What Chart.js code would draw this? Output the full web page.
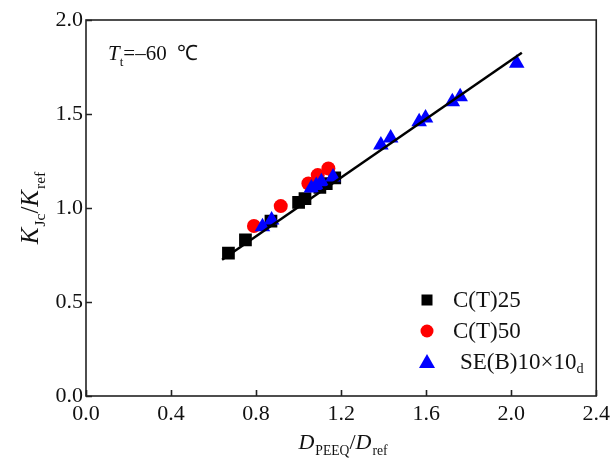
<!DOCTYPE html>
<html>
<head>
<meta charset="utf-8">
<script src="https://cdn.jsdelivr.net/npm/chart.js@4.4.0/dist/chart.umd.min.js"></script>
<style>
  html, body { margin: 0; padding: 0; background: #fff; }
  #wrap { width: 615px; height: 464px; }
</style>
</head>
<body>
<div id="wrap"><canvas id="c" width="615" height="464"></canvas></div>
<script>
// Normalised fracture toughness vs normalised PEEQ distance, Tt = -60 °C
const ct25X = [0.67, 0.75, 0.87, 1.00, 1.03, 1.10, 1.13, 1.17];
const ct25Y = [0.76, 0.83, 0.93, 1.03, 1.05, 1.11, 1.13, 1.16];

const ct50X = [0.79, 0.916, 1.046, 1.09, 1.14];
const ct50Y = [0.904, 1.01, 1.13, 1.175, 1.21];

const seX = [0.83, 0.873, 1.06, 1.083, 1.107, 1.162, 1.387, 1.433, 1.567, 1.597, 1.723, 1.76, 2.026];
const seY = [0.90, 0.936, 1.106, 1.12, 1.14, 1.165, 1.335, 1.372, 1.459, 1.479, 1.565, 1.592, 1.77];

const fitX = [0.64, 2.05];
const fitY = [0.725, 1.826];

const xTicks = [0.0, 0.4, 0.8, 1.2, 1.6, 2.0, 2.4];
const yTicks = [0.0, 0.5, 1.0, 1.5, 2.0];

const legendLabels = ['C(T)25', 'C(T)50', 'SE(B)10\u00d710'];

const pts = (xs, ys) => xs.map((x, i) => ({ x: x, y: ys[i] }));

const SERIF = '"Liberation Serif", "Times New Roman", serif';
const INK = '#111';

// draw a run of text pieces, some italic, some lowered as subscripts
function richWidth(ctx, parts, size) {
  let w = 0;
  for (const p of parts) {
    const s = p.sub ? size * 0.62 : size;
    ctx.font = (p.italic ? 'italic ' : '') + s + 'px ' + SERIF;
    w += ctx.measureText(p.t).width + (p.gap || 0);
  }
  return w;
}
function drawRich(ctx, parts, x, y, size) {
  let cx = x;
  for (const p of parts) {
    const s = p.sub ? size * 0.62 : size;
    ctx.font = (p.italic ? 'italic ' : '') + s + 'px ' + SERIF;
    ctx.fillText(p.t, cx, p.sub ? y + size * 0.28 : y);
    cx += ctx.measureText(p.t).width + (p.gap || 0);
  }
}

const decor = {
  id: 'decor',
  afterDatasetsDraw(chart) {
    const ctx = chart.ctx;
    const a = chart.chartArea;
    const xs = chart.scales.x, ys = chart.scales.y;
    ctx.save();
    // frame
    ctx.strokeStyle = '#222';
    ctx.lineWidth = 1.6;
    ctx.strokeRect(a.left, a.top, a.right - a.left, a.bottom - a.top);
    // inward ticks
    ctx.beginPath();
    for (const v of xTicks) {
      const px = Math.round(xs.getPixelForValue(v)) + 0.5;
      ctx.moveTo(px, a.bottom);
      ctx.lineTo(px, a.bottom - 6);
    }
    for (const v of yTicks) {
      const py = Math.round(ys.getPixelForValue(v)) + 0.5;
      ctx.moveTo(a.left, py);
      ctx.lineTo(a.left + 6, py);
    }
    ctx.stroke();

    ctx.fillStyle = INK;
    ctx.textBaseline = 'alphabetic';
    ctx.textAlign = 'left';

    // temperature note
    drawRich(ctx, [
      { t: 'T', italic: true },
      { t: 't', sub: true },
      { t: '=\u201360  \u2103' }
    ], 108, 60, 21);

    // x title
    const xParts = [
      { t: 'D', italic: true, gap: 1 },
      { t: 'PEEQ', sub: true },
      { t: '/' },
      { t: 'D', italic: true, gap: 1 },
      { t: 'ref', sub: true }
    ];
    const xw = richWidth(ctx, xParts, 22);
    drawRich(ctx, xParts, 343 - xw / 2, 449, 22);

    // y title (rotated)
    const yParts = [
      { t: 'K', italic: true, gap: 1 },
      { t: 'Jc', sub: true },
      { t: '/' },
      { t: 'K', italic: true, gap: 1 },
      { t: 'ref', sub: true }
    ];
    const yw = richWidth(ctx, yParts, 25);
    ctx.save();
    ctx.translate(38, 208);
    ctx.rotate(-Math.PI / 2);
    drawRich(ctx, yParts, -yw / 2, 0, 25);
    ctx.restore();

    // legend
    const lx = 427, rows = [300, 331, 362];
    ctx.fillStyle = '#000';
    ctx.fillRect(lx - 5.5, rows[0] - 5.5, 11, 11);
    ctx.fillStyle = '#ff0000';
    ctx.beginPath(); ctx.arc(lx, rows[1], 6.5, 0, Math.PI * 2); ctx.fill();
    ctx.fillStyle = '#0000ff';
    ctx.beginPath();
    ctx.moveTo(lx, rows[2] - 8);
    ctx.lineTo(lx + 8, rows[2] + 6);
    ctx.lineTo(lx - 8, rows[2] + 6);
    ctx.closePath(); ctx.fill();

    ctx.fillStyle = INK;
    ctx.textBaseline = 'middle';
    ctx.font = '23px ' + SERIF;
    ctx.fillText(legendLabels[0], 453, rows[0] + 1);
    ctx.fillText(legendLabels[1], 453, rows[1] + 1);
    drawRich(ctx, [{ t: legendLabels[2] }, { t: 'd', sub: true }], 460, rows[2] + 1, 23);
    ctx.restore();
  }
};

new Chart(document.getElementById('c'), {
  type: 'scatter',
  data: {
    datasets: [
      {
        label: 'fit',
        type: 'line',
        data: pts(fitX, fitY),
        borderColor: '#000',
        borderWidth: 2.5,
        pointRadius: 0,
        fill: false,
        order: 0
      },
      {
        label: legendLabels[2],
        data: pts(seX, seY),
        pointStyle: 'triangle',
        pointRadius: 9,
        backgroundColor: '#0000ff',
        borderColor: '#0000ff',
        borderWidth: 0,
        order: 1
      },
      {
        label: legendLabels[1],
        data: pts(ct50X, ct50Y),
        pointStyle: 'circle',
        pointRadius: 7,
        backgroundColor: '#ff0000',
        borderColor: '#ff0000',
        borderWidth: 0,
        order: 2
      },
      {
        label: legendLabels[0],
        data: pts(ct25X, ct25Y),
        pointStyle: 'rect',
        pointRadius: 9,
        backgroundColor: '#000',
        borderColor: '#000',
        borderWidth: 0,
        order: 3
      }
    ]
  },
  options: {
    responsive: false,
    animation: false,
    events: [],
    layout: { padding: { top: 20, right: 15, left: 0, bottom: 0 } },
    plugins: { legend: { display: false }, tooltip: { enabled: false } },
    scales: {
      x: {
        type: 'linear',
        min: 0, max: 2.4,
        afterBuildTicks: (s) => { s.ticks = xTicks.map(v => ({ value: v })); },
        afterFit: (s) => { s.height = 68; },
        grid: { display: false, drawTicks: false },
        border: { display: false },
        ticks: {
          padding: 5,
          color: INK,
          font: { family: SERIF, size: 22 },
          callback: (v) => v.toFixed(1)
        }
      },
      y: {
        type: 'linear',
        min: 0, max: 2.0,
        afterBuildTicks: (s) => { s.ticks = yTicks.map(v => ({ value: v })); },
        afterFit: (s) => { s.width = 86; },
        grid: { display: false, drawTicks: false },
        border: { display: false },
        ticks: {
          padding: 3,
          color: INK,
          font: { family: SERIF, size: 22 },
          callback: (v) => v.toFixed(1)
        }
      }
    }
  },
  plugins: [decor]
});
</script>
</body>
</html>
